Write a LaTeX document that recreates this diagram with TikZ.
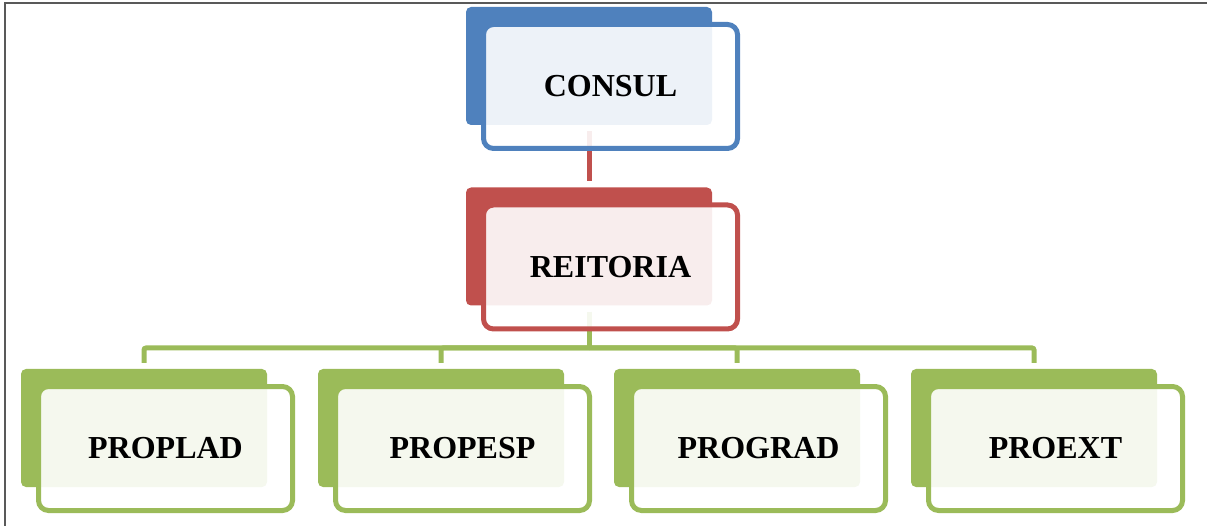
\documentclass[tikz,border=0pt]{standalone}
\usepackage{fontspec}
\setmainfont{Liberation Serif}
\usepackage{xcolor}
\definecolor{cBlue}{HTML}{4F81BD}
\definecolor{cRed}{HTML}{C0504D}
\definecolor{cGreen}{HTML}{9BBB59}
\definecolor{cFrame}{HTML}{595959}
\usetikzlibrary{positioning,calc,backgrounds}
\tikzset{
  node-back/.style={rounded corners=5pt,minimum width=246pt,minimum height=118pt,
    inner sep=0pt},
  node-front/.style={draw,line width=5pt,rounded corners=10pt,fill=white,
    fill opacity=0.9,text opacity=1,minimum width=254pt,minimum height=124pt,
    inner sep=0pt,font=\fontsize{32}{38}\selectfont\bfseries},
  % front box sits lower right of its coloured back box
  front-shift/.style={shift={(21.5,20.5)}},
  link/.style={line width=5pt,shorten <=6pt,shorten >=6pt},
  link-drop/.style={line width=5pt,draw=cGreen,rounded corners=2pt,shorten >=6pt},
  frame-line/.style={draw=cFrame,line width=1.5pt},
}
\begin{document}
\begin{tikzpicture}[x=1pt,y=-1pt]
  \useasboundingbox (0,0) rectangle (1207,526);
  \node[node-back,fill=cBlue] (consul-b) at (589,66) {};
  \node[node-front,draw=cBlue] (consul) at ($(consul-b)+(21.5,20.5)$) {CONSUL};
  \node[node-back,fill=cRed] (reitoria-b) at (589,246.5) {};
  \node[node-front,draw=cRed] (reitoria) at ($(reitoria-b)+(21.5,20.5)$) {REITORIA};
  \node[node-back,fill=cGreen] (proplad-b) at (144,428) {};
  \node[node-front,draw=cGreen] (proplad) at ($(proplad-b)+(21.5,20.5)$) {PROPLAD};
  \node[node-back,fill=cGreen] (propesp-b) at (441,428) {};
  \node[node-front,draw=cGreen] (propesp) at ($(propesp-b)+(21.5,20.5)$) {PROPESP};
  \node[node-back,fill=cGreen] (prograd-b) at (737,428) {};
  \node[node-front,draw=cGreen] (prograd) at ($(prograd-b)+(21.5,20.5)$) {PROGRAD};
  \node[node-back,fill=cGreen] (proext-b) at (1034,428) {};
  \node[node-front,draw=cGreen] (proext) at ($(proext-b)+(21.5,20.5)$) {PROEXT};
  \coordinate (bus) at (589,348);
  \begin{scope}[on background layer]
    \draw[frame-line] (5,540) |- (1220,3);
    \draw[link,draw=cRed] (consul-b.south) -- (reitoria-b.north);
    \draw[link,draw=cGreen,shorten >=0pt] (reitoria-b.south) -- (bus);
    \draw[link-drop] (bus) -| (proplad-b.north);
    \draw[link-drop] (bus) -| (propesp-b.north);
    \draw[link-drop] (bus) -| (prograd-b.north);
    \draw[link-drop] (bus) -| (proext-b.north);
  \end{scope}
\end{tikzpicture}
\end{document}
